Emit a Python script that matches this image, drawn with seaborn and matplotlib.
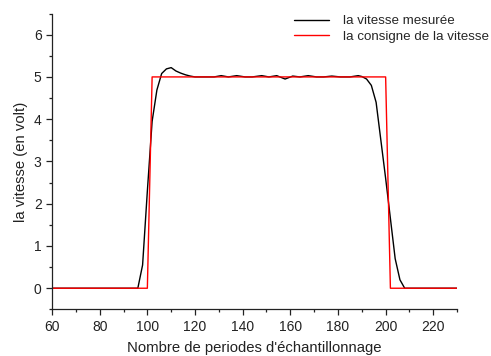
import numpy as np
import pandas as pd
import matplotlib
matplotlib.use("Agg")
import matplotlib.pyplot as plt
from matplotlib.ticker import MultipleLocator
import seaborn as sns

# Measured speed (volts) versus sampling period index
mesure_x = [60, 96, 98, 100, 102, 104, 106, 108, 110, 112, 114, 116, 118, 120,
            124, 128, 131, 134, 137.5, 141, 144, 148, 151, 154.3, 157.8, 161,
            164, 167.5, 171, 174, 177.4, 181, 185, 188.5, 190, 192, 194, 196,
            198, 200, 202, 204, 206, 208, 230]
mesure_y = [0, 0, 0.55, 2.3, 3.95, 4.69, 5.08, 5.19, 5.22, 5.14, 5.09, 5.05,
            5.02, 5.0, 5.0, 5.0, 5.03, 5.0, 5.03, 5.0, 5.0, 5.03, 5.0, 5.03,
            4.95, 5.02, 5.0, 5.03, 5.0, 5.0, 5.02, 5.0, 5.0, 5.03, 5.01, 4.95,
            4.8, 4.4, 3.5, 2.6, 1.65, 0.7, 0.2, 0, 0]

# Speed set point (volts)
consigne_x = [60, 100, 102, 200, 202, 230]
consigne_y = [0, 0, 5, 5, 0, 0]

label_mesure = "la vitesse mesurée"
label_consigne = "la consigne de la vitesse"

df = pd.concat([
    pd.DataFrame({"x": mesure_x, "y": mesure_y, "serie": label_mesure}),
    pd.DataFrame({"x": consigne_x, "y": consigne_y, "serie": label_consigne}),
], ignore_index=True)

sns.set_theme(style="ticks")
plt.rcParams["font.family"] = ["Liberation Sans", "DejaVu Sans"]

fig = plt.figure(figsize=(4.91, 3.56), dpi=100)
ax = fig.add_axes([0.106, 0.131, 0.825, 0.831])

sns.lineplot(data=df, x="x", y="y", hue="serie", sort=False, estimator=None,
             palette={label_mesure: "#000000", label_consigne: "#ff0000"},
             linewidth=1.0, ax=ax)

ax.set_xlim(60, 230)
ax.set_ylim(-0.5, 6.5)
ax.xaxis.set_major_locator(MultipleLocator(20))
ax.xaxis.set_minor_locator(MultipleLocator(10))
ax.yaxis.set_major_locator(MultipleLocator(1))
ax.yaxis.set_minor_locator(MultipleLocator(0.5))
ax.tick_params(which="major", length=4.0, width=0.9, labelsize=10,
               colors="#222222", pad=3.5)
ax.tick_params(which="minor", length=2.3, width=0.9, colors="#222222")
for s in ("top", "right"):
    ax.spines[s].set_visible(False)
for s in ("left", "bottom"):
    ax.spines[s].set_linewidth(0.9)
    ax.spines[s].set_color("#222222")

ax.set_xlabel("Nombre de periodes d'échantillonnage", fontsize=10.7,
              color="#222222", labelpad=5)
ax.set_ylabel("la vitesse (en volt)", fontsize=10.7, color="#222222",
              labelpad=4)

leg = ax.legend(loc="upper left", bbox_to_anchor=(294 / 491, 0.958),
                bbox_transform=fig.transFigure, frameon=False,
                borderpad=0, borderaxespad=0,
                fontsize=9.6, handlelength=2.6, handletextpad=1.1,
                labelspacing=0.25)

fig.savefig("out.png", dpi=100)
